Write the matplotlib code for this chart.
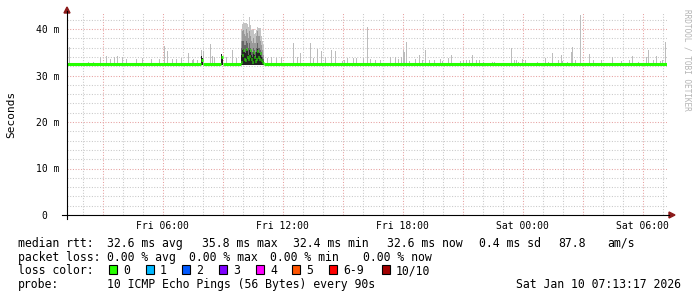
import numpy as np
import matplotlib
matplotlib.use("Agg")
import matplotlib.pyplot as plt
from matplotlib.transforms import blended_transform_factory
from matplotlib.patches import Polygon, Rectangle
from matplotlib.lines import Line2D

# ---------------- data (time in clock hours from Fri 00:00, values in ms) -------------
t_start, t_end = 1.2167, 31.2167          # Fri 01:13 .. Sat 07:13
sample_step = 0.05                        # one pixel column = 3 minutes

# isolated smoke spikes (max ping rtt of the round)
spike_hours = [1.32, 2.29, 2.54, 2.90, 3.17, 3.40, 3.59, 3.74, 3.97, 4.20, 4.67, 5.00,
               5.45, 5.82, 6.09, 6.24, 6.50, 6.70, 6.92, 7.27, 7.47, 7.54, 7.75, 7.95,
               8.04, 8.39, 8.47, 8.57, 8.95, 9.20, 9.50, 9.70, 11.24, 11.45, 11.70, 11.92,
               12.54, 12.74, 12.90, 13.40, 13.54, 13.72, 13.94, 14.12, 14.45, 14.62, 14.99,
               15.07, 15.25, 15.54, 15.70, 16.02, 16.25, 16.40, 16.65, 16.87, 17.40, 17.62,
               17.79, 17.95, 18.04, 18.09, 18.17, 18.34, 18.62, 18.84, 19.00, 19.14, 19.34,
               19.59, 19.87, 20.00, 20.27, 20.44, 20.87, 21.04, 21.17, 21.32, 21.49, 21.70,
               21.82, 22.04, 22.47, 22.57, 23.45, 23.57, 23.70, 23.80, 24.00, 24.12, 24.74,
               25.14, 25.29, 25.49, 25.79, 25.92, 26.00, 26.24, 26.44, 26.49, 26.62, 26.90,
               27.32, 27.54, 27.95, 28.49, 28.92, 29.34, 29.49, 29.80, 30.20, 30.27, 30.55,
               30.67, 30.87, 30.97, 31.12]
spike_top = [36.1, 33.0, 33.0, 34.0, 34.1, 33.5, 34.0, 34.2, 34.0, 33.5, 33.5, 33.7,
             33.5, 33.5, 36.3, 35.3, 33.5, 33.5, 33.7, 34.8, 33.3, 33.5, 33.3, 35.5,
             35.2, 36.8, 34.1, 34.0, 34.4, 34.0, 35.5, 33.7, 33.7, 33.9, 33.7, 33.9,
             36.9, 34.0, 34.9, 36.9, 33.7, 35.6, 35.2, 34.0, 35.5, 35.3, 33.2,
             33.3, 33.7, 33.7, 33.8, 33.7, 40.5, 33.5, 33.3, 33.3, 34.0, 34.0,
             33.5, 34.0, 35.5, 35.1, 37.1, 33.1, 33.5, 34.4, 33.3, 35.5, 33.3,
             33.3, 33.5, 33.1, 33.7, 34.4, 33.2, 33.2, 33.3, 33.3, 34.4, 33.3,
             33.3, 33.0, 33.0, 33.0, 36.0, 33.3, 33.3, 33.0, 33.5, 33.3, 33.0,
             33.8, 33.0, 34.9, 33.3, 34.4, 33.2, 33.0, 35.1, 36.2, 33.3, 43.0,
             34.6, 33.3, 33.3, 34.0, 33.2, 33.3, 34.2, 33.0, 34.0, 35.5, 33.3,
             34.2, 33.2, 33.3, 37.1]

# darker (dense) smoke just above the median
dark_hours = [7.93, 7.98, 8.93, 8.98]
dark_top = [34.2, 33.8, 34.6, 34.2]

# the burst around Fri 10:00 - 11:00, one value per 3-minute column
burst_start = 9.92
burst_max = [39.8, 41.0, 41.2, 41.2, 41.3, 41.2, 41.0, 40.5, 42.6, 40.8, 39.8, 39.8,
             40.1, 39.0, 39.2, 39.8, 40.5, 40.3, 40.2, 40.2, 38.4, 37.5, 36.5]
burst_mid = [37.5, 39.5, 39.8, 39.0, 38.5, 40.0, 39.2, 38.0, 39.5, 38.5, 37.5, 37.0,
             38.0, 37.0, 37.0, 38.5, 39.5, 38.5, 38.5, 37.5, 36.5, 35.5, 34.5]
burst_dark = [36.0, 37.5, 37.5, 36.5, 36.5, 37.5, 37.0, 36.0, 37.0, 36.0, 35.5, 35.0,
              36.0, 35.5, 35.0, 36.0, 37.0, 36.0, 36.0, 35.5, 35.0, 34.0, 33.5]
burst_low = [34.5, 35.5, 35.8, 35.0, 34.8, 35.8, 35.5, 34.5, 35.5, 35.0, 34.5, 34.0,
             35.0, 34.5, 34.0, 35.0, 35.8, 35.0, 34.8, 34.5, 34.0, 33.5, 33.2]
burst_median = [33.0, 34.5, 35.5, 33.5, 33.3, 35.8, 34.0, 33.5, 34.3, 35.5, 33.5, 33.0,
                35.0, 34.0, 33.2, 33.5, 35.3, 34.0, 33.5, 34.8, 33.3, 33.0, 32.7]

# median line segments outside the burst
med_from = [1.2167, 7.92, 8.02, 8.92, 9.00, 11.07]
med_to = [7.92, 8.02, 8.92, 9.00, 9.92, 31.2167]
med_val = [32.5, 33.4, 32.5, 34.0, 32.5, 32.5]
smoke_floor = 32.3

x_ticks = [6, 12, 18, 24, 30]
x_tick_labels = ["Fri 06:00", "Fri 12:00", "Fri 18:00", "Sat 00:00", "Sat 06:00"]
y_ticks = [0, 10, 20, 30, 40]
y_tick_labels = ["0", "10 m", "20 m", "30 m", "40 m"]

loss_labels = ["0", "1", "2", "3", "4", "5", "6-9", "10/10"]
loss_colors = ["#26ff00", "#00b8ff", "#0059ff", "#7e00ff", "#ff00ff", "#ff5500",
               "#ff0000", "#a10000"]

# ---------------- figure ----------------
W, H, DPI = 697, 297, 100
MONO = "DejaVu Sans Mono"
plt.rcParams["font.family"] = [MONO]
fig = plt.figure(figsize=(W / DPI, H / DPI), dpi=DPI)
fig.patch.set_facecolor("white")

L, R, B, T = 67, 667, 215, 13
YMAX = (B - T) / 4.65
ax = fig.add_axes([L / W, 1 - B / H, (R - L) / W, (B - T) / H])
ax.set_xlim(t_start, t_end)
ax.set_ylim(0, YMAX)
ax.axis("off")

def fx(px):
    return px / W

def fy(py):
    return 1 - py / H

# grid
minor_c, major_c = "#c8c8c8", "#e6a0a0"
dots = (0, (1, 1.6))
for h in range(2, 32):
    if t_start < h < t_end:
        ax.axvline(h, color=major_c if h % 3 == 0 else minor_c, lw=0.75,
                   ls=dots, zorder=0)
for v in range(2, 44, 2):
    ax.axhline(v, color=major_c if v % 10 == 0 else minor_c, lw=0.75,
               ls=dots, zorder=0)

# smoke spikes
base = np.array(med_val[0])
ax.bar(spike_hours, np.array(spike_top) - smoke_floor, bottom=smoke_floor,
       width=0.055, color="#bcbcbc", lw=0, zorder=2)
ax.bar(dark_hours, np.array(dark_top) - smoke_floor, bottom=smoke_floor,
       width=0.055, color="#202020", lw=0, zorder=3)

# burst
bh = burst_start + np.arange(len(burst_max)) * sample_step
for arr, col in [(burst_max, "#c4c4c4"), (burst_mid, "#9a9a9a"),
                 (burst_dark, "#666666"), (burst_low, "#222222")]:
    ax.bar(bh, np.array(arr) - smoke_floor, bottom=smoke_floor, width=0.056,
           align="edge", color=col, lw=0, zorder=2)

# median line
green = loss_colors[0]
ax.hlines(med_val, med_from, med_to, color=green, lw=2.2, zorder=4,
          capstyle="butt")
ax.hlines(burst_median, bh, bh + sample_step, color=green, lw=2.2, zorder=4)

# axes lines and arrows
ax_col = "#000000"
fig.add_artist(Line2D([fx(62), fx(669)], [fy(B), fy(B)], color=ax_col, lw=0.8,
                      transform=fig.transFigure))
fig.add_artist(Line2D([fx(L), fx(L)], [fy(219), fy(11)], color=ax_col, lw=0.8,
                      transform=fig.transFigure))
arrow_c = "#8b1a1a"
fig.add_artist(Polygon([[fx(64), fy(13)], [fx(70), fy(13)], [fx(67), fy(7)]],
                       closed=True, color=arrow_c, transform=fig.transFigure))
fig.add_artist(Polygon([[fx(669), fy(212)], [fx(669), fy(218)], [fx(675), fy(215)]],
                       closed=True, color=arrow_c, transform=fig.transFigure))

# tick labels
tx = blended_transform_factory(ax.transData, fig.transFigure)
for h, lab in zip(x_ticks, x_tick_labels):
    ax.text(h, fy(229), lab, transform=tx, ha="center", va="baseline",
            fontsize=7, family=MONO)
ty = blended_transform_factory(fig.transFigure, ax.transData)
for v, lab in zip(y_ticks, y_tick_labels):
    xr = 59.5 if v else 47
    ax.text(fx(xr), v, lab, transform=ty, ha="right", va="center_baseline",
            fontsize=7, family=MONO)

fig.text(fx(10.8), fy(114), "Seconds", rotation=90, ha="center", va="center",
         fontsize=8, family=MONO)
fig.text(fx(687), fy(60), "RRDTOOL / TOBI OETIKER", rotation=270, ha="center",
         va="center", fontsize=5.6, family=MONO, color="#b4b4b4")

# legend text
FS = 8.3
def lt(x, y, s):
    fig.text(fx(x), fy(y), s, ha="left", va="baseline", fontsize=FS, family=MONO)

lt(18, 247, "median rtt:")
for x, s in [(107, "32.6 ms avg"), (202, "35.8 ms max"), (293, "32.4 ms min"),
             (387, "32.6 ms now"), (479, "0.4 ms sd"), (558, "87.8"), (607, "am/s")]:
    lt(x, 247, s)
lt(18, 261, "packet loss:")
for x, s in [(107, "0.00 % avg"), (189, "0.00 % max"), (270, "0.00 % min"),
             (363, "0.00 % now")]:
    lt(x, 261, s)
lt(18, 274, "loss color:")
box_x = [109, 146, 182, 219, 256, 292, 329, 382]
for bx, lab, col in zip(box_x, loss_labels, loss_colors):
    fig.add_artist(Rectangle((fx(bx), fy(273.5)), 8 / W, 9 / H, facecolor=col,
                             edgecolor="black", lw=0.8, transform=fig.transFigure))
    lt(bx + 14, 274, lab)
lt(18, 288, "probe:")
lt(107, 288, "10 ICMP Echo Pings (56 Bytes) every 90s")
fig.text(fx(681), fy(288), "Sat Jan 10 07:13:17 2026", ha="right", va="baseline",
         fontsize=FS, family=MONO)

fig.savefig("out.png", dpi=DPI, facecolor="white")
